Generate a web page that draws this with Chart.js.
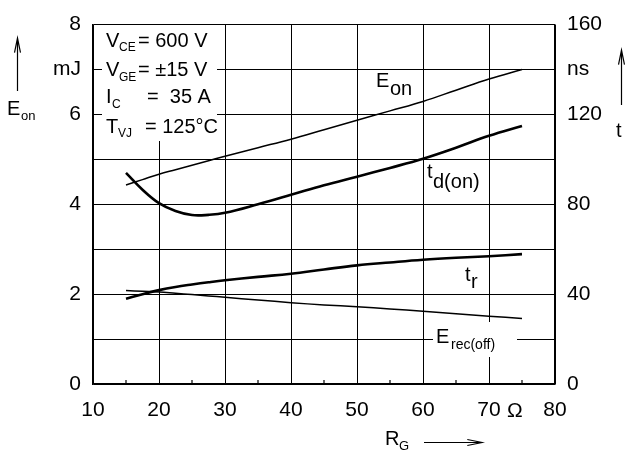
<!DOCTYPE html>
<html lang="en">
<head>
  <meta charset="UTF-8" />
  <title>Eon, td(on), tr, Erec(off) vs RG</title>
  <script src="https://cdn.jsdelivr.net/npm/chart.js"></script>
  <style>
    html, body { margin: 0; padding: 0; background: #ffffff; }
    #wrap { width: 625px; height: 457px; }
  </style>
</head>
<body>
  <div id="wrap"><canvas id="grafica" width="625" height="457"></canvas></div>

  <script>
    // gate resistance (ohm)
    const rG = [15, 17.5, 20, 22.5, 25, 27.5, 30, 35, 40, 45, 50, 55, 60, 65, 70, 75];
    // energies (mJ, left axis)
    const eOn     = [4.43, 4.55, 4.67, 4.77, 4.87, 4.97, 5.07, 5.26, 5.45, 5.66, 5.87, 6.08, 6.29, 6.54, 6.79, 7.0];
    const eRecOff = [2.08, 2.065, 2.05, 2.02, 1.99, 1.96, 1.93, 1.87, 1.81, 1.76, 1.72, 1.67, 1.62, 1.565, 1.51, 1.46];
    // times (ns, right axis)
    const tdOn = [94, 86.5, 80.5, 77, 75.2, 75.3, 76.2, 80, 84.2, 88.5, 92.3, 96.2, 100.3, 105.2, 110.5, 114.9];
    const tR   = [37.9, 40, 41.8, 43.2, 44.3, 45.3, 46.2, 47.7, 49.1, 51, 52.8, 54.1, 55.3, 56.2, 56.9, 57.8];

    const xTicks = [10, 20, 30, 40, 50, 60, 70, 80];
    const eTicks = [0, 2, 4, 6, 8];
    const tTicks = [0, 40, 80, 120, 160];

    const FONT = '"Liberation Sans", Arial, sans-serif';

    function puntos(ys) {
      return rG.map((x, i) => ({ x: x, y: ys[i] }));
    }

    // draws pieces of text: [texto, x, y, size]
    function texto(ctx, piezas) {
      ctx.fillStyle = '#000';
      ctx.textBaseline = 'alphabetic';
      ctx.textAlign = 'left';
      piezas.forEach(p => {
        ctx.font = p[3] + 'px ' + FONT;
        ctx.fillText(p[0], p[1], p[2]);
      });
    }

    function flecha(ctx, x1, y1, x2, y2) {
      const ang = Math.atan2(y2 - y1, x2 - x1);
      ctx.beginPath();
      ctx.moveTo(x1, y1);
      ctx.lineTo(x2, y2);
      ctx.moveTo(x2 - 15 * Math.cos(ang - 0.2), y2 - 15 * Math.sin(ang - 0.2));
      ctx.lineTo(x2, y2);
      ctx.lineTo(x2 - 15 * Math.cos(ang + 0.2), y2 - 15 * Math.sin(ang + 0.2));
      ctx.stroke();
    }

    const anotaciones = {
      id: 'anotaciones',
      afterDraw(chart) {
        const ctx = chart.ctx;
        const xs = chart.scales.x;
        const a = chart.chartArea;
        ctx.save();
        ctx.strokeStyle = '#000';
        ctx.lineWidth = 1.2;

        // minor ticks at 15, 25, ...
        xTicks.slice(0, -1).forEach(v => {
          const px = xs.getPixelForValue(v + 5);
          ctx.beginPath();
          ctx.moveTo(px, a.bottom);
          ctx.lineTo(px, a.bottom - 4);
          ctx.stroke();
        });

        // conditions box
        ctx.fillStyle = '#fff';
        ctx.fillRect(102, 25, 115, 116);
        texto(ctx, [
          ['V', 106, 46.5, 20], ['CE', 119, 51, 12], ['= 600 V', 138, 46.5, 20],
          ['V', 106, 76, 20], ['GE', 119, 80.5, 12], ['= \u00b115 V', 138, 76, 20],
          ['I', 106, 103, 20], ['C', 112, 107.5, 12], ['=  35 A', 147, 103, 20],
          ['T', 106, 132.5, 20], ['VJ', 118, 137, 12], ['= 125\u00b0C', 145, 132.5, 20]
        ]);

        // curve labels
        texto(ctx, [
          ['E', 376, 87, 20], ['on', 390, 94.5, 20],
          ['t', 427, 178, 20], ['d(on)', 433, 187.5, 20],
          ['t', 465, 281, 20], ['r', 471, 288, 20]
        ]);
        ctx.fillStyle = '#fff';
        ctx.fillRect(433, 322, 84, 35);
        texto(ctx, [['E', 436, 342.5, 20], ['rec(off)', 451, 349, 14]]);

        // omega after 70
        texto(ctx, [['\u03a9', xs.getPixelForValue(70) + 18, 417, 21]]);

        // axis titles
        flecha(ctx, 17.5, 91, 17.5, 38);
        texto(ctx, [['E', 7, 115, 20], ['on', 21, 120, 13]]);
        flecha(ctx, 621.5, 105, 621.5, 50);
        texto(ctx, [['t', 616, 137, 20]]);
        texto(ctx, [['R', 385, 445, 20], ['G', 399, 450, 13]]);
        flecha(ctx, 424, 442.5, 482, 442.5);

        ctx.restore();
      }
    };

    const serie = (label, ys, eje, grosor) => ({
      label: label,
      data: puntos(ys),
      yAxisID: eje,
      borderColor: '#000',
      borderWidth: grosor,
      pointRadius: 0,
      fill: false,
      tension: 0.4
    });

    new Chart(document.getElementById('grafica').getContext('2d'), {
      type: 'line',
      data: {
        datasets: [
          serie('Eon', eOn, 'yE', 1.5),
          serie('Erec(off)', eRecOff, 'yE', 1.5),
          serie('td(on)', tdOn, 'yT', 2.6),
          serie('tr', tR, 'yT', 2.6)
        ]
      },
      options: {
        responsive: false,
        animation: false,
        layout: { padding: { top: 16, left: 0, right: 0, bottom: 0 } },
        plugins: { legend: { display: false }, tooltip: { enabled: false } },
        scales: {
          x: {
            type: 'linear',
            min: 10,
            max: 80,
            afterFit: s => { s.height = 73; },
            afterBuildTicks: s => { s.ticks = xTicks.map(v => ({ value: v })); },
            ticks: { padding: 14, maxRotation: 0, autoSkip: false, color: '#000', font: { family: FONT, size: 21 } },
            grid: { color: '#000', lineWidth: 1, drawTicks: false },
            border: { color: '#000', width: 1.5 }
          },
          yE: {
            position: 'left',
            min: 0,
            max: 8,
            afterFit: s => { s.width = 93; },
            afterBuildTicks: s => {
              s.ticks = [0, 1, 2, 3, 4, 5, 6, 7, 8].map(v => ({ value: v }));
            },
            ticks: {
              padding: 12,
              color: '#000',
              font: { family: FONT, size: 21 },
              callback: v => eTicks.includes(v) ? String(v) : (v === 7 ? 'mJ' : '')
            },
            grid: { color: '#000', lineWidth: 1, drawTicks: false },
            border: { color: '#000', width: 1.5 }
          },
          yT: {
            position: 'right',
            min: 0,
            max: 160,
            afterFit: s => { s.width = 70; },
            afterBuildTicks: s => {
              s.ticks = [0, 20, 40, 60, 80, 100, 120, 140, 160].map(v => ({ value: v }));
            },
            ticks: {
              padding: 12,
              color: '#000',
              font: { family: FONT, size: 21 },
              callback: v => tTicks.includes(v) ? String(v) : (v === 140 ? 'ns' : '')
            },
            grid: { drawOnChartArea: false, drawTicks: false },
            border: { color: '#000', width: 1.2 }
          }
        }
      },
      plugins: [anotaciones]
    });
  </script>
</body>
</html>
